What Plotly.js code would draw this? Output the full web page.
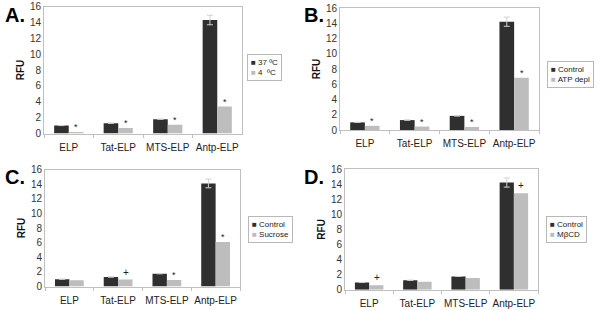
<!DOCTYPE html>
<html><head><meta charset="utf-8">
<script src="https://cdn.plot.ly/plotly-3.0.1.min.js"></script>
<style>html,body{margin:0;padding:0;background:#fff}#c{width:600px;height:310px}</style>
</head><body><div id="c"></div>
<script>
var categories = ["ELP", "Tat-ELP", "MTS-ELP", "Antp-ELP"];
var panelLabels = ["A.", "B.", "C.", "D."];
var seriesNames = [["37 ºC", "4  ºC"], ["Control", "ATP depl"], ["Control", "Sucrose"], ["Control", "MβCD"]];
var darkA = [1.0, 1.3, 1.8, 14.3];
var lightA = [0.2, 0.7, 1.1, 3.4];
var darkB = [1.0, 1.3, 1.85, 14.2];
var lightB = [0.55, 0.45, 0.4, 6.85];
var darkC = [1.0, 1.3, 1.75, 14.1];
var lightC = [0.85, 0.95, 0.9, 6.1];
var darkD = [0.95, 1.25, 1.75, 14.2];
var lightD = [0.6, 1.05, 1.55, 12.8];
var errDark = [0, 0, 0, 0.6];
var marksA = ["*", "*", "*", "*"];
var marksB = ["*", "*", "*", "*"];
var marksC = ["", "+", "*", "*"];
var marksD = ["+", "", "", "+"];
var yTicks = [0, 2, 4, 6, 8, 10, 12, 14, 16];

var W = 600, H = 310;
var DARK = "#2f2f2f", LIGHT = "#bdbdbd";
var FONT = "Liberation Sans, Arial, sans-serif";
// pixel boxes [left, right, top, bottom]
var boxes = [[44, 242, 6.5, 133.5], [340, 539, 8, 130], [45, 240, 169.5, 286.5], [345, 538, 169, 289.7]];
var legBoxes = [[247, 54], [547, 61], [248, 216], [546, 216]];
var letterPos = [[3, 15], [302, 15], [3, 177], [302, 177]];
var darks = [darkA, darkB, darkC, darkD];
var lights = [lightA, lightB, lightC, lightD];
var marks = [marksA, marksB, marksC, marksD];

var data = [], annotations = [];
var layout = {
  width: W, height: H, margin: {l: 0, r: 0, t: 0, b: 0},
  paper_bgcolor: "#fff", plot_bgcolor: "#fff",
  showlegend: false, barmode: "group", bargap: 0.41, bargroupgap: 0,
  font: {family: FONT, color: "#222", size: 10}
};

for (var p = 0; p < 4; p++) {
  var sfx = p === 0 ? "" : String(p + 1);
  var xa = "x" + sfx, ya = "y" + sfx;
  var b = boxes[p];
  layout["xaxis" + sfx] = {
    domain: [b[0] / W, b[1] / W], anchor: ya, type: "category",
    categoryorder: "array", categoryarray: categories,
    showline: true, linecolor: "#c0c0c0", linewidth: 1, mirror: true,
    ticks: "outside", tickson: "boundaries", ticklen: 3, tickcolor: "#c0c0c0",
    tickangle: 0, ticklabelstandoff: 4,
    tickfont: {size: 10, color: "#222", family: FONT}, showgrid: false, fixedrange: true
  };
  layout["yaxis" + sfx] = {
    domain: [1 - b[3] / H, 1 - b[2] / H], anchor: xa, range: [0, 16],
    tickvals: yTicks, ticktext: yTicks.map(String),
    showline: true, linecolor: "#c0c0c0", linewidth: 1, mirror: true,
    ticks: "", ticklabelstandoff: 0,
    tickfont: {size: 10, color: "#333", family: FONT}, showgrid: false, zeroline: false,
    title: {text: "<b>RFU</b>", standoff: 3, font: {size: 10, family: FONT, color: "#111"}},
    fixedrange: true
  };
  data.push({type: "bar", x: categories, y: darks[p], name: seriesNames[p][0], xaxis: xa, yaxis: ya,
    marker: {color: DARK}, error_y: {type: "data", array: errDark, visible: true, color: "#d0d0d0", thickness: 1, width: 3}});
  data.push({type: "bar", x: categories, y: lights[p], name: seriesNames[p][1], xaxis: xa, yaxis: ya,
    marker: {color: LIGHT}});
  for (var i = 0; i < categories.length; i++) {
    if (!marks[p][i]) continue;
    annotations.push({xref: xa, yref: ya, x: categories[i], y: lights[p][i],
      text: marks[p][i], showarrow: false, xanchor: "center", yanchor: "bottom",
      xshift: 7.5, yshift: marks[p][i] === "*" ? -2 : 0,
      font: {size: marks[p][i] === "*" ? 9 : 10, family: FONT, color: "#222"}});
  }
  // legend box
  var lb = legBoxes[p];
  annotations.push({xref: "paper", yref: "paper", x: lb[0] / W, y: 1 - lb[1] / H,
    xanchor: "left", yanchor: "top", align: "left", showarrow: false,
    bordercolor: "#b8b8b8", borderwidth: 1, borderpad: 3, bgcolor: "#fff",
    text: "<span style='color:" + DARK + "'>■</span> " + seriesNames[p][0] + "<br>" +
          "<span style='color:" + LIGHT + "'>■</span> " + seriesNames[p][1],
    font: {size: 8, family: FONT, color: "#222"}});
  // panel letter
  var lp = letterPos[p];
  annotations.push({xref: "paper", yref: "paper", x: lp[0] / W, y: 1 - lp[1] / H,
    xanchor: "left", yanchor: "middle", showarrow: false, text: "<b>" + panelLabels[p] + "</b>",
    font: {size: 20, family: FONT, color: "#000"}});
}
layout.annotations = annotations;
Plotly.newPlot("c", data, layout, {staticPlot: true, displayModeBar: false});
</script></body></html>
